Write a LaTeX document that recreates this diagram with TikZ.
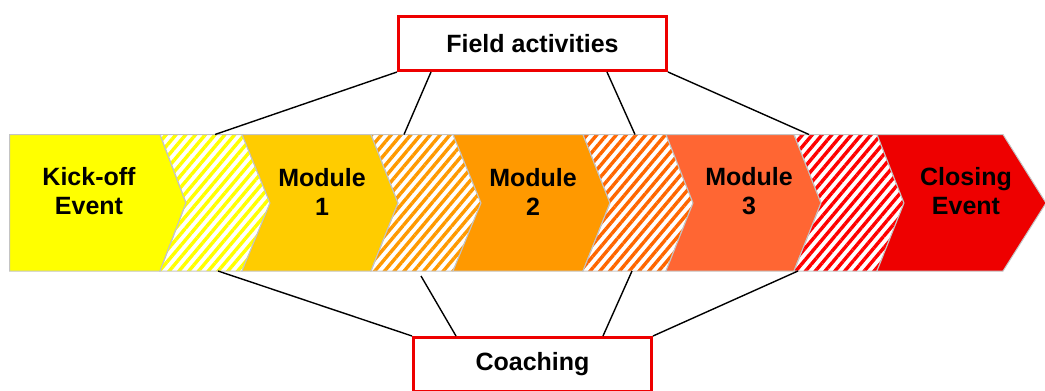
\documentclass[tikz,border=0pt]{standalone}
\usepackage{fontspec}
\setmainfont{Liberation Sans}
\usetikzlibrary{patterns.meta}
\definecolor{cYel}{HTML}{FFFF00}
\definecolor{cMod1}{HTML}{FFCC00}
\definecolor{cMod2}{HTML}{FF9900}
\definecolor{cMod3}{HTML}{FF6633}
\definecolor{cClose}{HTML}{EE0000}
\definecolor{cH3}{HTML}{FF6600}
\definecolor{cH4}{HTML}{FF0000}
\definecolor{cEdge}{HTML}{C4C4C4}
\definecolor{cBox}{HTML}{EE0000}
\tikzset{
  band/.style={draw=cEdge, line width=1pt, line join=miter},
  hatch/.style={band, fill=white, pattern={Lines[angle=50,distance=7.5pt,line width=3.4pt]}, pattern color=#1},
  lbl/.style={font=\bfseries\fontsize{25}{29}\selectfont, align=center, inner sep=0pt},
  tbox/.style={draw=cBox, line width=3pt, fill=white, font=\bfseries\fontsize{25}{29}\selectfont, inner sep=0pt, minimum height=54pt},
  conn/.style={draw=black, line width=1.4pt}
}
\begin{document}
\begin{tikzpicture}[x=1pt,y=-1pt]
\useasboundingbox (0,0) rectangle (1045,391);
\clip (0,0) rectangle (1045,391);
\def\T{134.5}\def\B{271}\def\M{203}
% band
\path[band, fill=cYel] (9.5,\T) -- (160,\T) -- (186,\M) -- (160,\B) -- (9.5,\B) -- cycle;
\path[hatch=cYel] (160,\T) -- (242,\T) -- (270,\M) -- (242,\B) -- (160,\B) -- (186,\M) -- cycle;
\path[band, fill=cMod1] (242,\T) -- (371,\T) -- (398,\M) -- (371,\B) -- (242,\B) -- (270,\M) -- cycle;
\path[hatch=cMod2] (371,\T) -- (453,\T) -- (481,\M) -- (453,\B) -- (371,\B) -- (398,\M) -- cycle;
\path[band, fill=cMod2] (453,\T) -- (583,\T) -- (610,\M) -- (583,\B) -- (453,\B) -- (481,\M) -- cycle;
\path[hatch=cH3] (583,\T) -- (666,\T) -- (693,\M) -- (666,\B) -- (583,\B) -- (610,\M) -- cycle;
\path[band, fill=cMod3] (666,\T) -- (794,\T) -- (821,\M) -- (794,\B) -- (666,\B) -- (693,\M) -- cycle;
\path[hatch=cH4] (794,\T) -- (877,\T) -- (904,\M) -- (877,\B) -- (794,\B) -- (821,\M) -- cycle;
\path[band, fill=cClose] (877,\T) -- (1003,\T) -- (1046,\M) -- (1003,\B) -- (877,\B) -- (904,\M) -- cycle;
% labels
\node[lbl] (kick) at (89,191.5) {Kick-off\\Event};
\node[lbl] (m1) at (322,191.5) {Module\\1};
\node[lbl] (m2) at (533,191.5) {Module\\2};
\node[lbl] (m3) at (749,191.5) {Module\\3};
\node[lbl] (close) at (966,191.5) {Closing\\Event};
% boxes
\node[tbox, minimum width=268pt] (fa) at (532.5,43.5) {Field activities};
\node[tbox, minimum width=238pt] (co) at (532.5,364.5) {Coaching};
% band anchor points
\coordinate (t1) at (215,\T);
\coordinate (t2) at (404,\T);
\coordinate (t3) at (635,\T);
\coordinate (t4) at (809,\T);
\coordinate (b1) at (218,\B);
\coordinate (b2) at (421,276);
\coordinate (b3) at (632,\B);
\coordinate (b4) at (798,\B);
% connectors
\draw[conn] (fa.south west) -- (t1);
\draw[conn] ([xshift=34pt]fa.south west) -- (t2);
\draw[conn] ([xshift=-61pt]fa.south east) -- (t3);
\draw[conn] (fa.south east) -- (t4);
\draw[conn] (co.north west) -- (b1);
\draw[conn] ([xshift=44pt]co.north west) -- (b2);
\draw[conn] ([xshift=-50pt]co.north east) -- (b3);
\draw[conn] (co.north east) -- (b4);
\end{tikzpicture}
\end{document}
